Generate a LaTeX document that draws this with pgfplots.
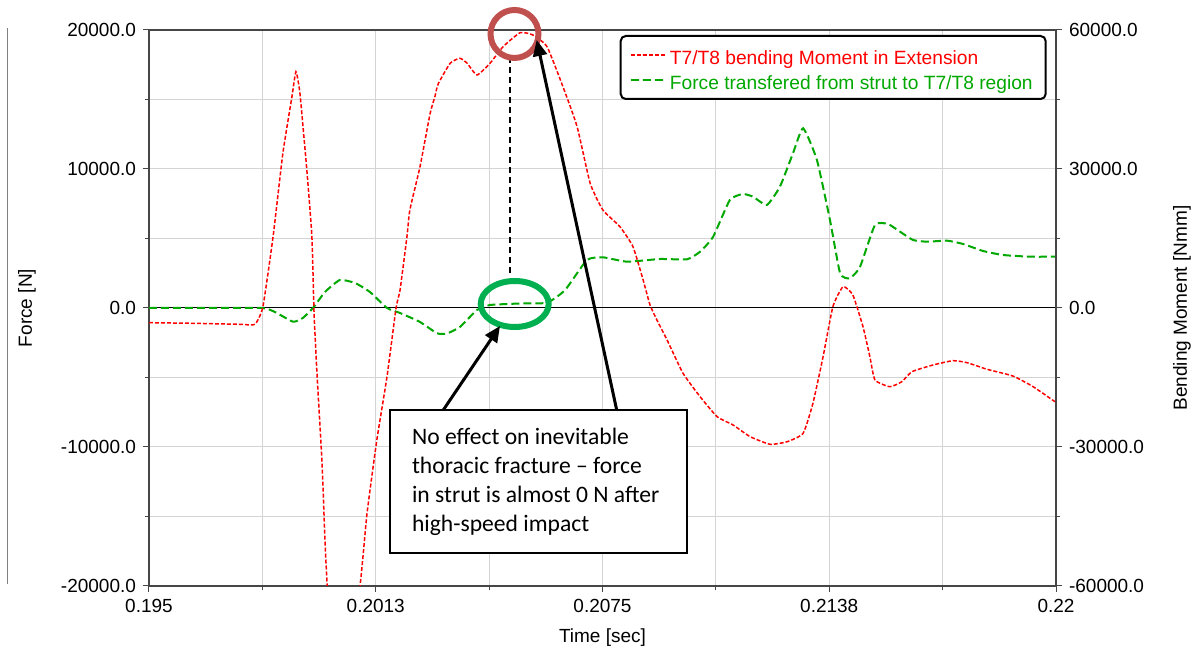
\documentclass[border=0pt]{standalone}
\usepackage{pgfplots}
\pgfplotsset{compat=1.18}
\usetikzlibrary{arrows.meta}
\usepackage{fontspec}
\setmainfont{Liberation Sans}
\newfontfamily\calibri{Carlito}
\definecolor{gridgray}{RGB}{212,212,212}
\definecolor{axgray}{RGB}{70,70,70}
\definecolor{mgreen}{RGB}{0,168,0}
\definecolor{circred}{RGB}{192,80,77}
\definecolor{ellgreen}{RGB}{0,176,80}
\begin{document}
\begin{tikzpicture}
\begin{axis}[
  width=453.5pt, height=278pt, scale only axis,
  xmin=0.195, xmax=0.22, ymin=-20000, ymax=20000,
  scaled x ticks=false, scaled y ticks=false,
  xtick={0.195,0.20125,0.2075,0.21375,0.22},
  xticklabels={0.195,0.2013,0.2075,0.2138,0.22},
  minor xtick={0.198125,0.204375,0.210625,0.216875},
  ytick={-20000,-10000,0,10000,20000},
  yticklabels={-20000.0,-10000.0,0.0,10000.0,20000.0},
  minor ytick={-15000,-5000,5000,15000},
  grid=both,
  major grid style={gridgray, line width=0.5pt},
  minor grid style={gridgray, line width=0.5pt},
  axis line style={axgray, line width=0.6pt},
  tick style={axgray, line width=0.5pt},
  tick align=outside, major tick length=3pt, minor tick length=2pt,
  xtick pos=lower, ytick pos=left,
  tick label style={font=\fontsize{9.5}{10.5}\selectfont},
  xlabel={Time [sec]}, ylabel={Force [N]},
  label style={font=\fontsize{9.5}{10.5}\selectfont},
  xlabel style={at={(axis description cs:0.5,-0.0935)}, anchor=center},
  ylabel style={at={(axis description cs:-0.1345,0.5)}, anchor=center},
  clip mode=individual,
]
\draw[black, line width=0.5pt] (rel axis cs:0,0.5) -- (rel axis cs:1,0.5);
\draw[gray, line width=0.5pt] (rel axis cs:-0.1562,0.0036) -- (rel axis cs:-0.1562,1.004);
\addplot[mgreen, line width=1pt, dash pattern=on 4pt off 2pt, smooth, tension=0.3] coordinates {
(0.19500,0) (0.19641,0) (0.19811,0) (0.19847,-288) (0.19897,-986) (0.19924,-719)
(0.19952,0) (0.19985,1151) (0.20026,2014) (0.20068,1799) (0.20109,1151) (0.20156,0)
(0.20192,-360) (0.20247,-1007) (0.20294,-1820) (0.20321,-1835) (0.20357,-1367)
(0.20404,-144) (0.20440,216) (0.20523,324) (0.20597,381) (0.20647,1295) (0.20707,3453)
(0.20751,3647) (0.20818,3331) (0.20909,3525) (0.20983,3503) (0.21019,4050) (0.21055,5129)
(0.21101,7770) (0.21137,8201) (0.21165,8007) (0.21203,7410) (0.21239,8726) (0.21275,11130)
(0.21303,12928) (0.21341,10647) (0.21377,6331) (0.21405,2496) (0.21432,2137) (0.21460,2971)
(0.21501,5971) (0.21537,6043) (0.21570,5489) (0.21606,4892) (0.21644,4770) (0.21700,4842)
(0.21744,4604) (0.21799,4101) (0.21854,3813) (0.21928,3691) (0.22000,3691)
};
\end{axis}
\begin{axis}[
  width=453.5pt, height=278pt, scale only axis,
  xmin=0.195, xmax=0.22, ymin=-60000, ymax=60000,
  scaled x ticks=false, scaled y ticks=false,
  axis x line=none, axis y line*=right,
  ytick={-60000,-30000,0,30000,60000},
  yticklabels={-60000.0,-30000.0,0.0,30000.0,60000.0},
  minor ytick={-45000,-15000,15000,45000},
  axis line style={axgray, line width=0.6pt},
  tick style={axgray, line width=0.5pt},
  tick align=outside, major tick length=3pt, minor tick length=2pt,
  tick label style={font=\fontsize{9.5}{10.5}\selectfont},
  ylabel={Bending Moment [Nmm]},
  label style={font=\fontsize{9.5}{10.5}\selectfont},
  ylabel style={at={(axis description cs:1.1389,0.5)}, anchor=center},
  clip mode=individual,
  legend style={at={(0.9897,0.991)}, anchor=north east, draw=black, line width=1pt,
    rounded corners=2.5pt, fill=white, font=\fontsize{9.6}{11.5}\selectfont,
    inner xsep=4.5pt, inner ysep=2.5pt, row sep=-1.5pt,
    nodes={text height=10pt, text depth=0pt}},
  legend cell align=left,
]
\addplot[red, line width=0.75pt, dash pattern=on 2pt off 1pt, smooth, tension=0.3, forget plot] coordinates {
(0.19500,-3173) (0.19621,-3302) (0.19751,-3518) (0.19792,-3518) (0.19814,281)
(0.19842,15389) (0.19869,33389) (0.19894,45605) (0.19905,51001) (0.19916,46338)
(0.19935,29785) (0.19949,15389) (0.19955,-1144) (0.19963,-14094) (0.19977,-33519)
(0.19988,-55102) (0.20021,-100000) (0.20082,-59785) (0.20101,-44310) (0.20128,-28490)
(0.20156,-14828) (0.20181,0) (0.20192,3885) (0.20211,15389) (0.20219,21151)
(0.20247,30497) (0.20275,42022) (0.20288,45605) (0.20297,48346) (0.20330,52814)
(0.20357,53893) (0.20377,52814) (0.20404,50288) (0.20440,52814) (0.20476,56397)
(0.20523,59418) (0.20558,58921) (0.20597,56397) (0.20641,47763) (0.20680,39130)
(0.20716,26914) (0.20751,21151) (0.20798,17547) (0.20834,13230) (0.20862,6043)
(0.20881,647) (0.20900,-2590) (0.20928,-6907) (0.20972,-14094) (0.21019,-19144)
(0.21066,-23460) (0.21110,-25252) (0.21157,-27777) (0.21212,-29418) (0.21259,-28857)
(0.21303,-27044) (0.21330,-20569) (0.21358,-10511) (0.21385,281) (0.21413,4597)
(0.21440,2806) (0.21468,-4036) (0.21487,-10511) (0.21501,-15540) (0.21542,-16986)
(0.21575,-15907) (0.21603,-13748) (0.21661,-12306) (0.21716,-11374) (0.21755,-11806)
(0.21810,-13230) (0.21881,-14676) (0.21937,-16986) (0.21997,-20224)
};
\addlegendimage{red, line width=0.75pt, dash pattern=on 2pt off 1pt}
\addlegendentry{\textcolor{red}{T7/T8 bending Moment in Extension}}
\addlegendimage{mgreen, line width=1pt, dash pattern=on 4pt off 2pt}
\addlegendentry{\textcolor{mgreen}{Force transfered from strut to T7/T8 region}}
% annotations
\draw[black, line width=0.8pt, dash pattern=on 3pt off 2pt] (rel axis cs:0.39802,0.95144) -- (rel axis cs:0.39802,0.55935);
\draw[circred, line width=3pt] (rel axis cs:0.40298,0.99281) circle[radius=12pt];
\draw[ellgreen, line width=3pt] (rel axis cs:0.40320,0.50719) ellipse[x radius=17pt, y radius=11.5pt];
\draw[black, line width=1.5pt, -{Triangle[length=8pt,width=7pt]}] (rel axis cs:0.32448,0.31655) -- (rel axis cs:0.38699,0.46763);
\draw[black, line width=1.5pt, -{Triangle[length=8pt,width=7pt]}] (rel axis cs:0.51566,0.31655) -- (rel axis cs:0.42746,0.98201);
\draw[black, line width=1pt, fill=white] (rel axis cs:0.26571,0.05935) rectangle (rel axis cs:0.59317,0.31655);
\node[anchor=north west, inner sep=0pt, align=left, font=\calibri\fontsize{11.8}{14.4}\selectfont]
  at (rel axis cs:0.2896,0.2842) {No effect on inevitable\\thoracic fracture – force\\in strut is almost 0 N after\\high-speed impact};
\end{axis}
\pgfresetboundingbox
\path (-74.5pt,-35.5pt) rectangle (525.5pt,293pt);
\end{tikzpicture}
\end{document}
